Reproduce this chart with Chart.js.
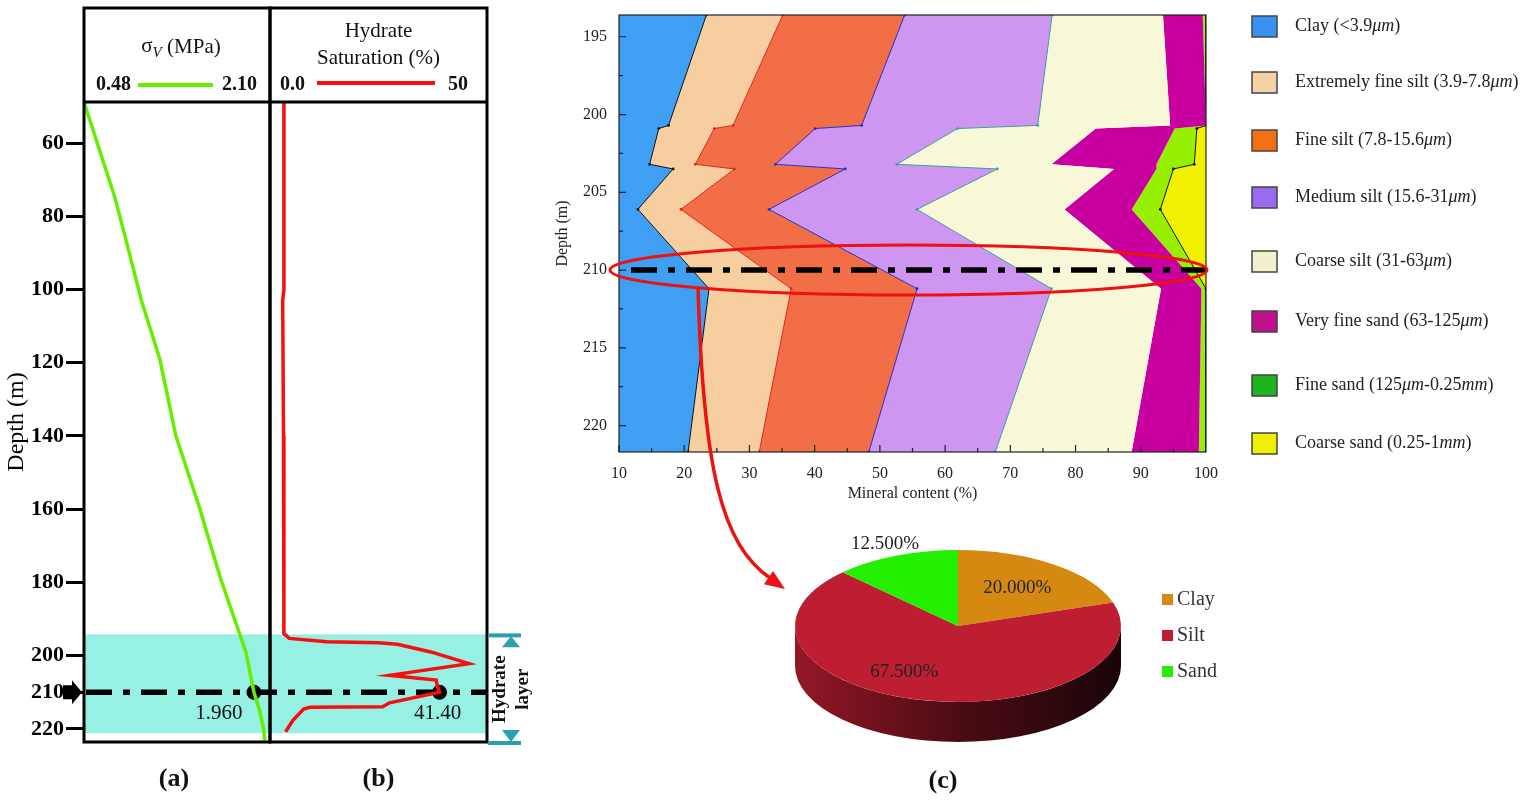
<!DOCTYPE html>
<html>
<head>
<meta charset="utf-8">
<script src="https://cdn.jsdelivr.net/npm/chart.js@4.4.1/dist/chart.umd.min.js"></script>
<style>
  html, body { margin: 0; padding: 0; background: #fff; }
  #wrap { position: relative; width: 1529px; height: 804px; overflow: hidden; }
  #wrap canvas { position: absolute; left: 0; top: 0; }
</style>
</head>
<body>
<div id="wrap">
  <canvas id="chartC" width="1529" height="804"></canvas>
  <canvas id="chartPie" width="1529" height="804"></canvas>
  <canvas id="chartB" width="1529" height="804"></canvas>
  <canvas id="chartA" width="1529" height="804"></canvas>
</div>
<script>
// ---------- data ----------
// (a) vertical stress against depth
const stressDepth  = [48.8, 75, 87, 103, 119, 140, 160, 168, 179, 199, 210, 215, 220, 223.6];
const stressValues = [0.48, 0.75, 0.85, 0.98, 1.14, 1.28, 1.49, 1.565, 1.67, 1.89, 1.96, 2.01, 2.045, 2.055];
const stressRange  = [0.48, 2.10];

// (b) hydrate saturation against depth
const satDepth  = [48.8, 100, 103, 140, 190, 194, 195.3, 196.2, 196.5, 196.9, 199, 202.2, 205.4, 206.7, 208, 210, 212.9, 214.0, 214.1, 214.6, 217.7, 220.8];
const satValues = [3.4, 3.4, 3.1, 3.3, 3.4, 3.4, 4.7, 13.9, 26.5, 31.1, 39.3, 48.6, 29.2, 40.6, 40.8, 41.4, 29.2, 27.5, 9.8, 8.2, 5.6, 3.8];
const satRange  = [0, 53];
const satHeader = [0.0, 50];

const depthTicks   = [60, 80, 100, 120, 140, 160, 180, 200, 210, 220];
const depthRange   = [48.8, 223.6];
const hydrateLayer = [194.2, 221.2];
const markDepth  = 210;
const markStress = 1.96;
const markSat    = 41.4;

// (c) grain size composition (%) at each core depth
const coreDepth  = [193.6, 200.7, 200.9, 203.2, 203.5, 206.1, 211.2, 221.7];
const clay       = [23.4, 17.6, 16.1, 14.7, 18.3, 12.9, 23.8, 20.6];
const extFineSilt= [11.7,  9.9,  8.5,  7.0,  9.4,  6.6, 12.6, 10.9];
const fineSilt   = [18.7, 19.7, 15.5, 12.3, 17.0, 13.5, 19.3, 16.8];
const mediumSilt = [22.6, 27.0, 21.8, 18.6, 23.3, 22.7, 20.6, 19.4];
const coarseSilt = [17.0, 20.3, 21.2, 23.7, 17.9, 22.6, 16.8, 20.9];
const vFineSand  = [ 6.1,  5.5, 12.1, 16.1,  6.5, 10.3,  6.2, 10.3];
const fineSand   = [ 0.5,  0.0,  3.4,  5.8,  2.6,  4.4,  0.7,  1.1];
const coarseSand = [ 0.0,  0.0,  1.4,  1.8,  5.0,  7.0,  0.0,  0.0];
const grainSeries = [clay, extFineSilt, fineSilt, mediumSilt, coarseSilt, vFineSand, fineSand, coarseSand];
const grainLabels = ['Clay (<3.9*μm*)', 'Extremely fine silt (3.9-7.8*μm*)', 'Fine silt (7.8-15.6*μm*)',
  'Medium silt (15.6-31*μm*)', 'Coarse silt (31-63*μm*)', 'Very fine sand (63-125*μm*)',
  'Fine sand (125*μm*-0.25*mm*)', 'Coarse sand (0.25-1*mm*)'];
const coreTicks = [195, 200, 205, 210, 215, 220];

// composition at the marked depth
const pieLabels = ['Clay', 'Silt', 'Sand'];
const pieValues = [20.0, 67.5, 12.5];

// ---------- style ----------
const SERIF = '"Liberation Serif", "Times New Roman", serif';
const W = 1529, H = 804;
const HEADER_TOP = 8, HEADER_BOTTOM = 102, PLOT_BOTTOM = 742;
const PANEL_A_LEFT = 84, PANEL_A_RIGHT = 270, PANEL_B_RIGHT = 487;
const GREEN = '#66ee00', RED = '#f51010', CYAN = '#96f0e4', TEAL = '#2a9fb0';
const DASHDOT = [26, 11, 7, 11];
const areaColors = ['#3f9ff2', '#f6cea0', '#f26e46', '#ce96f0', '#f8f8d8', '#c800a0', '#96f000', '#f0f000'];
const edgeColors = ['#111111', '#e02020', '#2030d0', '#3aa0a0', 'rgba(0,0,0,0)', 'rgba(0,0,0,0)', '#111111', 'rgba(0,0,0,0)'];
const legendColors = ['#3a92f0', '#f3d2a5', '#f07012', '#9a6af0', '#f3f1cd', '#c0108c', '#1fb21f', '#eef000'];
const legendRowY = [26, 82, 140, 197, 261, 321, 385, 443];
const pieColors = ['#d68910', '#be1e32', '#22f000'];
const PIE_TILT = 0.466, PIE_DEPTH = 40;

Chart.defaults.font.family = SERIF;
Chart.defaults.color = '#111';
Chart.defaults.animation = false;
Chart.defaults.events = [];
Chart.defaults.plugins.legend.display = false;
Chart.defaults.plugins.tooltip.enabled = false;

// text with *italic* parts
function richText(ctx, str, x, y, size, align) {
  const parts = str.split('*');
  let total = 0;
  parts.forEach((p, i) => { ctx.font = (i % 2 ? 'italic ' : '') + size + 'px ' + SERIF; total += ctx.measureText(p).width; });
  let cx = align === 'center' ? x - total / 2 : x;
  ctx.textAlign = 'left';
  parts.forEach((p, i) => {
    ctx.font = (i % 2 ? 'italic ' : '') + size + 'px ' + SERIF;
    ctx.fillText(p, cx, y);
    cx += ctx.measureText(p).width;
  });
}

function shade(hex, f) {
  const n = parseInt(hex.slice(1), 16);
  const r = Math.round(((n >> 16) & 255) * f), g = Math.round(((n >> 8) & 255) * f), b = Math.round((n & 255) * f);
  return `rgb(${r},${g},${b})`;
}

function depthScale(show) {
  const scale = {
    type: 'linear',
    reverse: true,
    min: depthRange[0],
    max: depthRange[1],
    display: show,
    afterBuildTicks: s => { s.ticks = depthTicks.map(v => ({ value: v })); },
    border: { display: false },
    grid: { drawOnChartArea: false, tickLength: 18, color: '#000', lineWidth: 3 },
    ticks: { color: '#000', padding: 2, autoSkip: false, font: { size: 22, weight: 'bold' } },
    title: { display: true, text: 'Depth (m)', color: '#000', font: { size: 24 }, padding: { top: 2, bottom: 0 } }
  };
  if (show) scale.afterFit = s => { s.width = PANEL_A_LEFT; };
  return scale;
}

// ---------- panel (b) : drawn underneath panel (a) ----------
const panelBPlugin = {
  id: 'panelB',
  beforeDatasetsDraw(chart) {
    const { ctx, chartArea: a, scales } = chart;
    const y0 = scales.y.getPixelForValue(hydrateLayer[0]);
    const y1 = scales.y.getPixelForValue(hydrateLayer[1]);
    const ym = scales.y.getPixelForValue(markDepth);
    ctx.save();
    ctx.fillStyle = CYAN;
    ctx.fillRect(PANEL_A_LEFT, y0, a.right - PANEL_A_LEFT, y1 - y0);
    ctx.strokeStyle = '#000';
    ctx.lineWidth = 5.5;
    ctx.setLineDash(DASHDOT);
    ctx.beginPath(); ctx.moveTo(PANEL_A_LEFT + 2, ym); ctx.lineTo(a.right, ym); ctx.stroke();
    ctx.restore();
  },
  afterDraw(chart) {
    const { ctx, chartArea: a, scales } = chart;
    const cx = (a.left + a.right) / 2;
    ctx.save();
    ctx.strokeStyle = '#000'; ctx.lineWidth = 3;
    ctx.strokeRect(a.left, HEADER_TOP, a.right - a.left, a.bottom - HEADER_TOP);
    ctx.beginPath(); ctx.moveTo(a.left, a.top); ctx.lineTo(a.right, a.top); ctx.stroke();
    ctx.fillStyle = '#111'; ctx.textBaseline = 'middle'; ctx.textAlign = 'center';
    ctx.font = '21px ' + SERIF;
    ctx.fillText('Hydrate', cx, 31);
    ctx.fillText('Saturation (%)', cx, 58);
    ctx.font = 'bold 20px ' + SERIF;
    ctx.textAlign = 'left'; ctx.fillText(satHeader[0].toFixed(1), a.left + 10, 85);
    ctx.textAlign = 'right'; ctx.fillText(String(satHeader[1]), a.right - 19, 85);
    ctx.strokeStyle = RED; ctx.lineWidth = 4;
    ctx.beginPath(); ctx.moveTo(a.left + 47, 83); ctx.lineTo(a.left + 165, 83); ctx.stroke();
    // value at the marked depth
    const px = scales.x.getPixelForValue(markSat), py = scales.y.getPixelForValue(markDepth);
    ctx.fillStyle = '#111'; ctx.font = '21px ' + SERIF; ctx.textAlign = 'center';
    ctx.fillText(markSat.toFixed(2), px - 2, py + 21);
    // hydrate layer bracket
    const y0 = scales.y.getPixelForValue(hydrateLayer[0]);
    const bx = a.right + 1, bw = 33, tx = bx + 23;
    ctx.fillStyle = TEAL;
    ctx.fillRect(bx, y0 - 1, bw, 4);
    ctx.fillRect(bx, a.bottom - 1, bw, 4);
    ctx.beginPath(); ctx.moveTo(tx, y0 + 2); ctx.lineTo(tx - 9, y0 + 13); ctx.lineTo(tx + 9, y0 + 13); ctx.closePath(); ctx.fill();
    ctx.beginPath(); ctx.moveTo(tx, a.bottom); ctx.lineTo(tx - 9, a.bottom - 12); ctx.lineTo(tx + 9, a.bottom - 12); ctx.closePath(); ctx.fill();
    ctx.save();
    ctx.translate(bx + 12, (y0 + a.bottom) / 2 + 1);
    ctx.rotate(-Math.PI / 2);
    ctx.fillStyle = '#111'; ctx.font = 'bold 19px ' + SERIF; ctx.textAlign = 'center';
    ctx.fillText('Hydrate', 0, 0);
    ctx.fillText('layer', 0, 23);
    ctx.restore();
    ctx.font = 'bold 26px ' + SERIF; ctx.textAlign = 'center'; ctx.fillStyle = '#111';
    ctx.fillText('(b)', cx, 779);
    ctx.restore();
  }
};

new Chart(document.getElementById('chartB'), {
  type: 'scatter',
  data: {
    datasets: [
      { data: satDepth.map((d, i) => ({ x: satValues[i], y: d })), showLine: true, borderColor: RED, borderWidth: 3.5, pointRadius: 0, tension: 0 },
      { data: [{ x: markSat, y: markDepth }], pointRadius: 7.5, pointBackgroundColor: '#000', pointBorderWidth: 0 }
    ]
  },
  options: {
    responsive: false,
    layout: { padding: { left: PANEL_A_RIGHT, right: W - PANEL_B_RIGHT, top: HEADER_BOTTOM, bottom: H - PLOT_BOTTOM } },
    scales: {
      x: { type: 'linear', display: false, min: satRange[0], max: satRange[1] },
      y: depthScale(false)
    }
  },
  plugins: [panelBPlugin]
});

// ---------- panel (a) ----------
const panelAPlugin = {
  id: 'panelA',
  afterDraw(chart) {
    const { ctx, chartArea: a, scales } = chart;
    const cx = (a.left + a.right) / 2;
    ctx.save();
    ctx.strokeStyle = '#000'; ctx.lineWidth = 3;
    ctx.strokeRect(a.left, HEADER_TOP, a.right - a.left, a.bottom - HEADER_TOP);
    ctx.beginPath(); ctx.moveTo(a.left, a.top); ctx.lineTo(a.right, a.top); ctx.stroke();
    // sigma_V (MPa)
    ctx.fillStyle = '#111'; ctx.textBaseline = 'middle';
    ctx.font = '21px ' + SERIF;
    const wS = ctx.measureText('σ').width, wM = ctx.measureText(' (MPa)').width;
    ctx.font = 'italic 15px ' + SERIF;
    const wV = ctx.measureText('V').width;
    let x = cx - (wS + wV + wM) / 2 + 4;
    ctx.textAlign = 'left';
    ctx.font = '21px ' + SERIF; ctx.fillText('σ', x, 46); x += wS;
    ctx.font = 'italic 15px ' + SERIF; ctx.fillText('V', x, 53); x += wV;
    ctx.font = '21px ' + SERIF; ctx.fillText(' (MPa)', x, 47);
    ctx.font = 'bold 20px ' + SERIF;
    ctx.fillText(stressRange[0].toFixed(2), a.left + 12, 85);
    ctx.textAlign = 'right'; ctx.fillText(stressRange[1].toFixed(2), a.right - 13, 85);
    ctx.strokeStyle = GREEN; ctx.lineWidth = 4;
    ctx.beginPath(); ctx.moveTo(a.left + 54, 85); ctx.lineTo(a.left + 129, 85); ctx.stroke();
    // value at the marked depth
    const px = scales.x.getPixelForValue(markStress), py = scales.y.getPixelForValue(markDepth);
    ctx.font = '21px ' + SERIF; ctx.textAlign = 'center';
    ctx.fillText(markStress.toFixed(3), px - 35, py + 21);
    // arrow pointing at the marked depth
    ctx.fillStyle = '#000';
    ctx.beginPath();
    ctx.moveTo(a.left - 21, py - 7); ctx.lineTo(a.left - 12, py - 7); ctx.lineTo(a.left - 12, py - 12);
    ctx.lineTo(a.left - 2, py); ctx.lineTo(a.left - 12, py + 12); ctx.lineTo(a.left - 12, py + 7);
    ctx.lineTo(a.left - 21, py + 7); ctx.closePath(); ctx.fill();
    ctx.font = 'bold 26px ' + SERIF; ctx.textAlign = 'center'; ctx.fillStyle = '#111';
    ctx.fillText('(a)', cx - 3, 779);
    ctx.restore();
  }
};

new Chart(document.getElementById('chartA'), {
  type: 'scatter',
  data: {
    datasets: [
      { data: stressDepth.map((d, i) => ({ x: stressValues[i], y: d })), showLine: true, borderColor: GREEN, borderWidth: 3.5, pointRadius: 0, tension: 0 },
      { data: [{ x: markStress, y: markDepth }], pointRadius: 7.5, pointBackgroundColor: '#000', pointBorderWidth: 0 }
    ]
  },
  options: {
    responsive: false,
    layout: { padding: { left: 0, right: W - PANEL_A_RIGHT, top: HEADER_BOTTOM, bottom: H - PLOT_BOTTOM } },
    scales: {
      x: { type: 'linear', display: false, min: stressRange[0], max: stressRange[1] },
      y: depthScale(true)
    }
  },
  plugins: [panelAPlugin]
});

// ---------- panel (c) : grain size stacked areas ----------
const grainPlugin = {
  id: 'grain',
  afterDraw(chart) {
    const { ctx, chartArea: a, scales } = chart;
    ctx.save();
    ctx.strokeStyle = '#222'; ctx.lineWidth = 1.2;
    ctx.strokeRect(a.left, a.top, a.right - a.left, a.bottom - a.top);
    // inward ticks, major and minor
    ctx.beginPath();
    coreTicks.forEach((v, i) => {
      [v, v + 2.5].forEach((t, k) => {
        if (t > scales.y.max) return;
        const y = scales.y.getPixelForValue(t);
        ctx.moveTo(a.left, y); ctx.lineTo(a.left + (k ? 4 : 7), y);
      });
    });
    scales.x.ticks.forEach(t => {
      [t.value, t.value + 5].forEach((v, k) => {
        if (v >= scales.x.max) return;
        const x = scales.x.getPixelForValue(v);
        ctx.moveTo(x, a.bottom); ctx.lineTo(x, a.bottom - (k ? 4 : 7));
      });
    });
    ctx.stroke();
    // marked depth
    const ym = scales.y.getPixelForValue(markDepth);
    ctx.strokeStyle = '#000'; ctx.lineWidth = 5.5; ctx.setLineDash(DASHDOT);
    ctx.beginPath(); ctx.moveTo(a.left + 12, ym); ctx.lineTo(a.right, ym); ctx.stroke();
    ctx.setLineDash([]);
    // red ellipse and pointer to the pie
    const ex = (a.left + a.right) / 2 - 4, rx = (a.right - a.left) / 2 + 5, ry = 25;
    ctx.strokeStyle = '#ee1111'; ctx.lineWidth = 3;
    ctx.beginPath(); ctx.ellipse(ex, ym, rx, ry, 0, 0, Math.PI * 2); ctx.stroke();
    const sx = ex - rx * 0.705, sy = ym + ry * 0.709;
    ctx.lineWidth = 3.5;
    ctx.beginPath(); ctx.moveTo(sx, sy);
    ctx.bezierCurveTo(sx + 5, 470, sx + 24, 545, 770, 578);
    ctx.stroke();
    ctx.fillStyle = '#ee1111';
    const ang = Math.atan2(33, 48), tipX = 785, tipY = 589;
    ctx.beginPath();
    ctx.moveTo(tipX, tipY);
    ctx.lineTo(tipX - 20 * Math.cos(ang) + 8 * Math.sin(ang), tipY - 20 * Math.sin(ang) - 8 * Math.cos(ang));
    ctx.lineTo(tipX - 20 * Math.cos(ang) - 8 * Math.sin(ang), tipY - 20 * Math.sin(ang) + 8 * Math.cos(ang));
    ctx.closePath(); ctx.fill();
    // legend
    ctx.textBaseline = 'middle'; ctx.fillStyle = '#222';
    grainLabels.forEach((label, i) => {
      const y = legendRowY[i];
      ctx.fillStyle = legendColors[i];
      ctx.fillRect(1252, y - 10, 25, 21);
      ctx.strokeStyle = '#444'; ctx.lineWidth = 1.5;
      ctx.strokeRect(1252, y - 10, 25, 21);
      ctx.fillStyle = '#222';
      richText(ctx, label, 1295, y, 18, 'left');
    });
    ctx.restore();
  }
};

new Chart(document.getElementById('chartC'), {
  type: 'line',
  data: {
    datasets: grainSeries.map((series, i) => ({
      label: grainLabels[i].replace(/\*/g, ''),
      data: coreDepth.map((d, j) => ({ x: series[j], y: d })),
      fill: i === 0 ? 'origin' : '-1',
      backgroundColor: areaColors[i],
      borderColor: edgeColors[i],
      borderWidth: 1,
      pointRadius: edgeColors[i].startsWith('rgba') ? 0 : 1.4,
      pointBackgroundColor: edgeColors[i],
      pointBorderWidth: 0,
      tension: 0
    }))
  },
  options: {
    indexAxis: 'y',
    responsive: false,
    layout: { padding: { left: 549, right: W - 1206, top: 15, bottom: H - 452 - 55 } },
    scales: {
      x: {
        type: 'linear', stacked: true, min: 10, max: 100, position: 'bottom',
        afterFit: s => { s.height = 55; },
        border: { display: false },
        grid: { display: false, drawTicks: false },
        ticks: { stepSize: 10, padding: 12, color: '#222', font: { size: 16 } },
        title: { display: true, text: 'Mineral content (%)', color: '#222', font: { size: 16 }, padding: { top: 0, bottom: 4 } }
      },
      y: {
        type: 'linear', reverse: true, min: coreDepth[0], max: coreDepth[coreDepth.length - 1],
        afterBuildTicks: s => { s.ticks = coreTicks.map(v => ({ value: v })); },
        afterFit: s => { s.width = 70; s.paddingTop = 0; s.paddingBottom = 0; },
        border: { display: false },
        grid: { display: false, drawTicks: false },
        ticks: { padding: 12, color: '#222', autoSkip: false, font: { size: 16 } },
        title: { display: true, text: 'Depth (m)', color: '#222', font: { size: 16 }, padding: { top: 4, bottom: 0 } }
      }
    }
  },
  plugins: [grainPlugin]
});

// ---------- pie at the marked depth ----------
const pie3dPlugin = {
  id: 'pie3d',
  beforeDatasetsDraw(chart) {
    const { ctx } = chart;
    const arcs = chart.getDatasetMeta(0).data;
    const { x: cx, y: cy, outerRadius: r } = arcs[0];
    const ry = r * PIE_TILT;
    ctx.save();
    arcs.forEach((arc, i) => {
      const color = pieColors[i];
      [-2 * Math.PI, 0, 2 * Math.PI].forEach(shift => {
        const s = Math.max(arc.startAngle + shift, 0), e = Math.min(arc.endAngle + shift, Math.PI);
        if (e <= s) return;
        const g = ctx.createLinearGradient(cx - r, 0, cx + r, 0);
        g.addColorStop(0, shade(color, 0.78));
        g.addColorStop(0.5, shade(color, 0.40));
        g.addColorStop(1, shade(color, 0.13));
        ctx.fillStyle = g;
        ctx.beginPath();
        ctx.ellipse(cx, cy, r, ry, 0, s, e, false);
        ctx.ellipse(cx, cy + PIE_DEPTH, r, ry, 0, e, s, true);
        ctx.closePath(); ctx.fill();
      });
    });
    ctx.restore();
    ctx.save();
    ctx.translate(cx, cy); ctx.scale(1, PIE_TILT); ctx.translate(-cx, -cy);
  },
  afterDatasetsDraw(chart) {
    const { ctx } = chart;
    ctx.restore();
    const arcs = chart.getDatasetMeta(0).data;
    const total = pieValues.reduce((p, v) => p + v, 0);
    ctx.save();
    ctx.fillStyle = '#222'; ctx.font = '19px ' + SERIF; ctx.textAlign = 'center'; ctx.textBaseline = 'middle';
    arcs.forEach((arc, i) => {
      const mid = (arc.startAngle + arc.endAngle) / 2;
      const share = pieValues[i] / total;
      const f = share < 0.15 ? 1.17 : 0.62;
      const x = arc.x + f * arc.outerRadius * Math.cos(mid) + (share > 0.5 ? -30 : 0);
      const y = arc.y + f * arc.outerRadius * PIE_TILT * Math.sin(mid);
      ctx.fillText((share * 100).toFixed(3) + '%', x, y);
    });
    // legend
    ctx.textAlign = 'left';
    ctx.font = '20px ' + SERIF;
    pieLabels.forEach((lab, i) => {
      const y = 600 + i * 36;
      ctx.fillStyle = pieColors[i];
      ctx.fillRect(1162, y - 6, 11, 11);
      ctx.fillStyle = '#333';
      ctx.fillText(lab, 1177, y);
    });
    ctx.fillStyle = '#111'; ctx.font = 'bold 26px ' + SERIF; ctx.textAlign = 'center';
    ctx.fillText('(c)', 943, 781);
    ctx.restore();
  }
};

new Chart(document.getElementById('chartPie'), {
  type: 'pie',
  data: {
    labels: pieLabels,
    datasets: [{ data: pieValues, backgroundColor: pieColors, borderWidth: 0 }]
  },
  options: {
    responsive: false,
    layout: { padding: { left: 795, right: W - 1121, top: 463, bottom: H - 789 } }
  },
  plugins: [pie3dPlugin]
});
</script>
</body>
</html>
